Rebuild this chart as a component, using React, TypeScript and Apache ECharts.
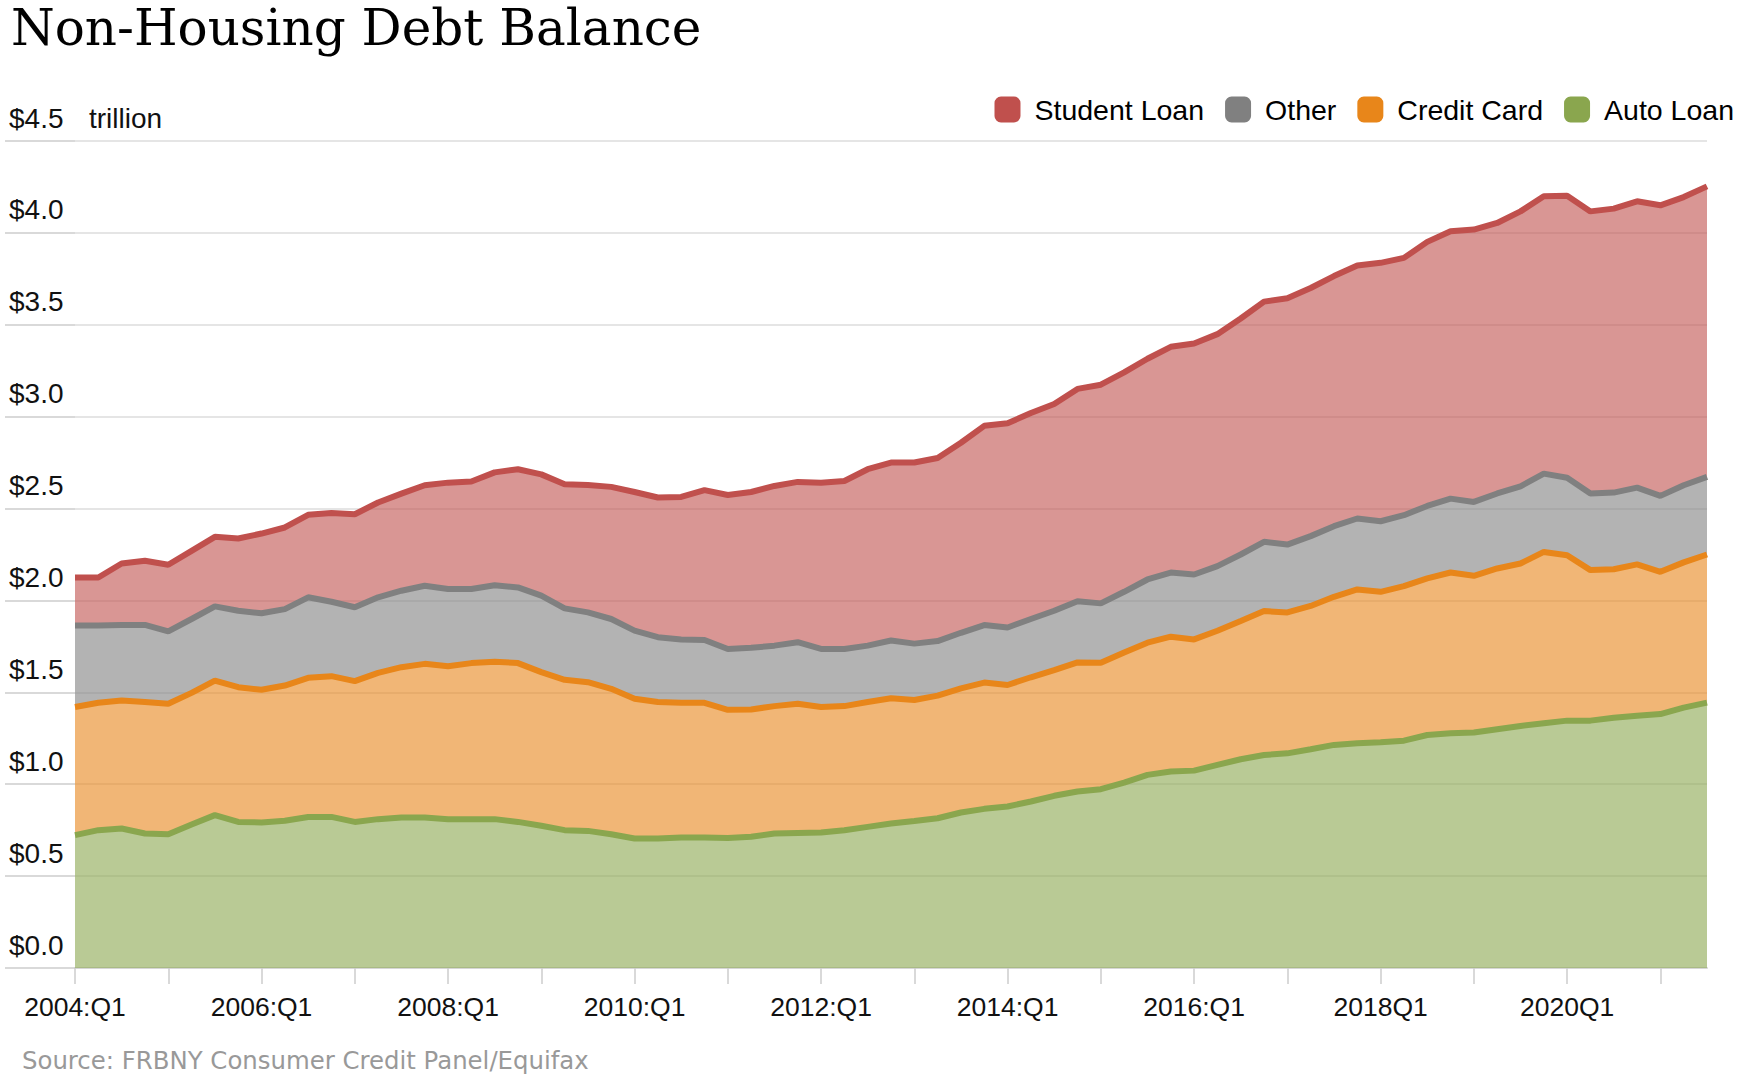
import { useEffect, useRef } from 'react'
import * as echarts from 'echarts'

// quarterly, 2004Q1 .. 2021Q3 (trillions of dollars)
const quarters = Array.from({ length: 71 }, (_, i) => `${2004 + Math.floor(i / 4)}Q${(i % 4) + 1}`)

const xTickLabels = ['2004:Q1', '2006:Q1', '2008:Q1', '2010:Q1', '2012:Q1', '2014:Q1', '2016:Q1', '2018Q1', '2020Q1']
const yTickLabels = ['$0.0', '$0.5', '$1.0', '$1.5', '$2.0', '$2.5', '$3.0', '$3.5', '$4.0', '$4.5']

const autoLoan = [
  0.723, 0.75, 0.759, 0.732, 0.728, 0.781, 0.832, 0.795, 0.792, 0.801,
  0.822, 0.822, 0.795, 0.81, 0.819, 0.819, 0.81, 0.81, 0.81, 0.795,
  0.774, 0.75, 0.746, 0.728, 0.705, 0.705, 0.71, 0.71, 0.708, 0.714,
  0.732, 0.735, 0.737, 0.75, 0.768, 0.786, 0.8, 0.815, 0.846, 0.866,
  0.879, 0.906, 0.937, 0.96, 0.973, 1.009, 1.051, 1.069, 1.074, 1.105,
  1.136, 1.159, 1.168, 1.19, 1.214, 1.223, 1.228, 1.237, 1.268, 1.277,
  1.281, 1.299, 1.317, 1.332, 1.346, 1.346, 1.362, 1.373, 1.382, 1.417, 1.444,
]
const creditCard = [
  0.697, 0.693, 0.697, 0.715, 0.71, 0.716, 0.732, 0.733, 0.722, 0.736,
  0.757, 0.766, 0.766, 0.796, 0.818, 0.836, 0.832, 0.849, 0.857, 0.864,
  0.836, 0.818, 0.809, 0.791, 0.76, 0.742, 0.733, 0.733, 0.697, 0.693,
  0.693, 0.703, 0.683, 0.675, 0.679, 0.682, 0.658, 0.667, 0.676, 0.687,
  0.661, 0.676, 0.684, 0.703, 0.688, 0.708, 0.719, 0.734, 0.714, 0.73,
  0.752, 0.783, 0.767, 0.78, 0.806, 0.837, 0.819, 0.841, 0.852, 0.875,
  0.853, 0.875, 0.884, 0.932, 0.9, 0.819, 0.808, 0.823, 0.774, 0.79, 0.806,
]
const other = [
  0.443, 0.42, 0.411, 0.42, 0.394, 0.402, 0.404, 0.416, 0.416, 0.416,
  0.438, 0.405, 0.402, 0.411, 0.416, 0.425, 0.42, 0.403, 0.416, 0.412,
  0.416, 0.389, 0.38, 0.38, 0.371, 0.353, 0.344, 0.342, 0.331, 0.335,
  0.329, 0.335, 0.316, 0.311, 0.307, 0.314, 0.307, 0.297, 0.302, 0.313,
  0.313, 0.317, 0.323, 0.333, 0.323, 0.33, 0.344, 0.349, 0.353, 0.352,
  0.362, 0.377, 0.369, 0.38, 0.384, 0.386, 0.384, 0.386, 0.394, 0.402,
  0.402, 0.408, 0.42, 0.426, 0.422, 0.417, 0.417, 0.418, 0.413, 0.42, 0.422,
]
const studentLoan = [
  0.262, 0.262, 0.334, 0.349, 0.362, 0.371, 0.378, 0.393, 0.434, 0.444,
  0.449, 0.483, 0.506, 0.516, 0.528, 0.547, 0.579, 0.585, 0.614, 0.643,
  0.66, 0.675, 0.693, 0.719, 0.754, 0.76, 0.776, 0.815, 0.838, 0.848,
  0.869, 0.872, 0.905, 0.914, 0.96, 0.968, 0.986, 0.996, 1.034, 1.084,
  1.111, 1.121, 1.125, 1.155, 1.19, 1.194, 1.201, 1.228, 1.257, 1.262,
  1.284, 1.307, 1.34, 1.35, 1.361, 1.377, 1.406, 1.4, 1.437, 1.455,
  1.482, 1.472, 1.496, 1.509, 1.534, 1.535, 1.545, 1.558, 1.581, 1.568, 1.581,
]

const legendNames = ['Student Loan', 'Other', 'Credit Card', 'Auto Loan']

// bottom of the stack first
const stackOrder = [
  { name: 'Auto Loan', data: autoLoan, color: '#8aa64e' },
  { name: 'Credit Card', data: creditCard, color: '#e8861a' },
  { name: 'Other', data: other, color: '#808080' },
  { name: 'Student Loan', data: studentLoan, color: '#c0504d' },
]

const colorOf = (name: string) => stackOrder.find((s) => s.name === name)?.color

export default function App() {
  const chartRef = useRef<HTMLDivElement>(null)

  useEffect(() => {
    if (!chartRef.current) return
    const chart = echarts.init(chartRef.current, undefined, { renderer: 'svg' })

    // fills underneath, strokes on top so the next band never tints a line
    const areaSeries = stackOrder.map((s) => ({
      name: s.name,
      type: 'line',
      stack: 'area',
      data: s.data,
      symbol: 'none',
      color: s.color,
      lineStyle: { width: 0 },
      areaStyle: { color: s.color, opacity: 0.6 },
      z: 2,
    }))

    const lineSeries = stackOrder.map((s) => ({
      name: s.name,
      type: 'line',
      stack: 'line',
      data: s.data,
      symbol: 'none',
      color: s.color,
      lineStyle: { width: 6, color: s.color },
      z: 3,
    }))

    chart.setOption({
      animation: false,
      backgroundColor: '#fff',
      textStyle: { fontFamily: 'Liberation Sans' },
      title: {
        text: 'Non-Housing Debt Balance',
        left: 6,
        top: -2,
        textStyle: { fontFamily: 'DejaVu Serif', fontSize: 50, fontWeight: 'normal', color: '#000' },
      },
      legend: {
        data: legendNames.map((n) => ({ name: n, itemStyle: { color: colorOf(n), borderWidth: 0 } })),
        icon: 'roundRect',
        itemWidth: 26,
        itemHeight: 26,
        itemGap: 21,
        right: 6,
        top: 90,
        textStyle: { fontSize: 28.5, color: '#000', padding: [0, 0, 0, 9] },
      },
      grid: { left: 75, right: 38, top: 141, bottom: 106 },
      xAxis: {
        type: 'category',
        data: quarters,
        boundaryGap: false,
        axisLine: { lineStyle: { color: '#d6d6d6', width: 2 } },
        axisTick: { interval: 3, length: 16, lineStyle: { color: '#cccccc', width: 1.5 } },
        axisLabel: {
          interval: 7,
          margin: 25,
          fontSize: 26.5,
          color: '#111',
          formatter: (_v: string, i: number) => xTickLabels[i / 8] ?? '',
        },
        splitLine: { show: false },
      },
      yAxis: {
        type: 'value',
        min: 0,
        max: 4.5,
        interval: 0.5,
        axisLine: { show: false },
        axisTick: { show: true, length: 70, lineStyle: { color: '#cccccc', width: 1.5 } },
        splitLine: { lineStyle: { color: '#dddddd', width: 1.5 } },
        axisLabel: {
          align: 'left',
          verticalAlign: 'bottom',
          margin: 66,
          padding: [0, 0, 9, 0],
          fontSize: 28,
          color: '#111',
          formatter: (v: number) => yTickLabels[Math.round(v / 0.5)],
        },
      },
      graphic: [
        {
          type: 'text',
          x: 89,
          y: 132,
          style: { text: 'trillion', fill: '#111', fontSize: 28, fontFamily: 'Liberation Sans', verticalAlign: 'bottom' },
        },
        {
          type: 'text',
          x: 22,
          y: 1060,
          style: {
            text: 'Source: FRBNY Consumer Credit Panel/Equifax',
            fill: '#999',
            fontSize: 24.4,
            fontFamily: 'DejaVu Sans',
            verticalAlign: 'middle',
          },
        },
      ],
      series: [...areaSeries, ...lineSeries],
    })

    return () => chart.dispose()
  }, [])

  return <div ref={chartRef} style={{ position: 'fixed', left: 0, top: 0, width: 1745, height: 1074, background: '#fff' }} />
}
